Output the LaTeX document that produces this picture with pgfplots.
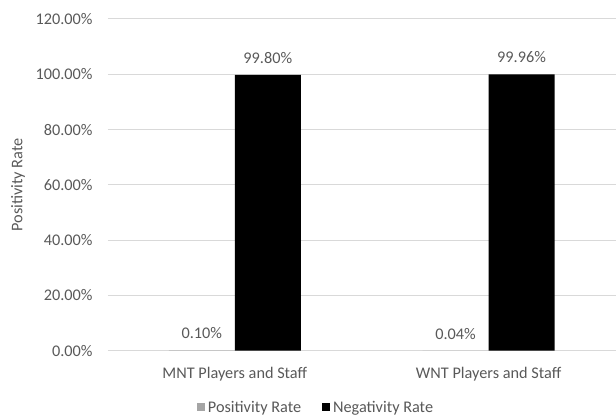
\documentclass[border=0pt]{standalone}
\usepackage{fontspec}
\setmainfont{Carlito}
\usepackage{pgfplots}
\pgfplotsset{compat=1.18}
\definecolor{txt}{HTML}{595959}
\definecolor{grd}{HTML}{D9D9D9}
\definecolor{pos}{HTML}{A5A5A5}
\begin{document}
\begin{tikzpicture}
\begin{axis}[
  name=ax,
  scale only axis,
  width=381pt, height=249pt,
  ybar=0pt,
  bar width=49.5pt,
  xmin=-0.5, xmax=1.5,
  ymin=0, ymax=120,
  ytick={0,20,...,120},
  xtick={0,1},
  xticklabels={MNT Players and Staff, WNT Players and Staff},
  axis line style={draw=none},
  tick style={draw=none},
  ymajorgrids,
  grid style={grd, line width=0.75pt},
  font=\fontsize{12.2pt}{14pt}\selectfont,
  /pgf/number format/assume math mode=true,
  yticklabel={\pgfmathprintnumber[fixed,fixed zerofill,precision=2]{\tick}\%},
  yticklabel style={text=txt, xshift=-8pt},
  xticklabel style={text=txt, yshift=-4.5pt},
  ylabel={Positivity Rate},
  ylabel style={text=txt, at={(axis description cs:-0.177,0.5)}, anchor=center},
  nodes near coords={\pgfmathprintnumber[fixed,fixed zerofill,precision=2]{\pgfplotspointmeta}\%},
  nodes near coords style={text=txt, font=\fontsize{12.2pt}{14pt}\selectfont, anchor=south, yshift=5pt},
  legend style={draw=none, at={(0.411,-0.171)}, anchor=center, legend columns=2,
    text=txt, font=\fontsize{12.2pt}{14pt}\selectfont,
    /tikz/every even column/.append style={column sep=14pt}},
  legend image code/.code={\fill[#1] (-2pt,-3pt) rectangle (4pt,3pt);},
]
\addplot[fill=pos, draw=none] coordinates {(0,0.10) (1,0.04)};
\addplot[fill=black, draw=none] coordinates {(0,99.80) (1,99.96)};
\legend{Positivity Rate, Negativity Rate}
\end{axis}
\path[use as bounding box] ([xshift=-81pt,yshift=-51pt]ax.south west) rectangle ([yshift=14.25pt]ax.north east);
\end{tikzpicture}
\end{document}
